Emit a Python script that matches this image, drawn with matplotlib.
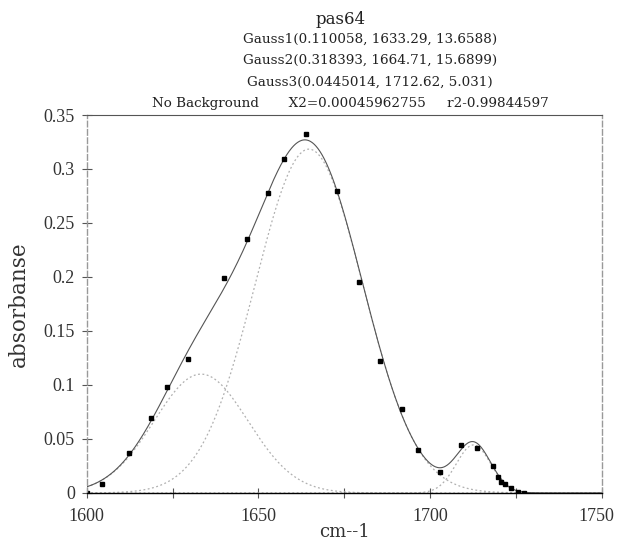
import numpy as np
import matplotlib
matplotlib.use("Agg")
import matplotlib.pyplot as plt
from matplotlib.transforms import ScaledTranslation

# parametres des gaussiennes (amplitude, centre, largeur) lus dans le titre
gauss_amp = [0.110058, 0.318393, 0.0445014]
gauss_center = [1633.29, 1664.71, 1712.62]
gauss_width = [13.6588, 15.6899, 5.031]

wavenumber = [1600.0, 1604.5, 1612.4, 1618.6, 1623.3, 1629.4, 1640.1, 1646.6,
              1652.7, 1657.4, 1663.7, 1673.0, 1679.3, 1685.5, 1691.7, 1696.5,
              1702.8, 1709.0, 1713.7, 1718.3, 1719.7, 1720.7, 1721.9, 1723.5,
              1725.5, 1727.4]
absorbance = [0.0, 0.0083, 0.0367, 0.0698, 0.0978, 0.124, 0.1994, 0.2355,
              0.2775, 0.309, 0.332, 0.2796, 0.195, 0.122, 0.078, 0.040,
              0.0194, 0.0444, 0.042, 0.0253, 0.015, 0.0105, 0.0083, 0.0044,
              0.0007, 0.0002]

title_lines = [
    "Gauss1(0.110058, 1633.29, 13.6588)",
    "Gauss2(0.318393, 1664.71, 15.6899)",
    "Gauss3(0.0445014, 1712.62, 5.031)",
    "No Background       X2=0.00045962755     r2-0.99844597",
]
title_centers = [370, 370, 370, 350]


def gauss(x, a, c, w):
    return a * np.exp(-(x - c) ** 2 / (2 * w ** 2))


x = np.linspace(1600, 1750, 800)
components = [gauss(x, a, c, w) for a, c, w in zip(gauss_amp, gauss_center, gauss_width)]
total = np.sum(components, axis=0)

fig = plt.figure(figsize=(6.18, 5.44), dpi=100)
ax = fig.add_axes([0.1403, 0.0938, 0.8337, 0.6948])

for comp in components:
    ax.plot(x, comp, color="#b0b0b0", lw=0.9, ls=(0, (1.5, 2)))
ax.plot(x, total, color="#555555", lw=0.8)
ax.plot(wavenumber, absorbance, "s", color="black", ms=2.6)

ax.set_xlim(1600, 1750)
ax.set_ylim(0, 0.35)
ax.set_xticks([1600, 1650, 1700, 1750])
ax.set_xticks([1625, 1675, 1725], minor=True)
ax.set_yticks([0, 0.05, 0.1, 0.15, 0.2, 0.25, 0.3, 0.35])
ax.set_yticklabels(["0", "0.05", "0.1", "0.15", "0.2", "0.25", "0.3", "0.35"])
ax.tick_params(axis="both", which="both", direction="inout", length=7,
               width=0.8, color="#555555", labelsize=13)
ax.tick_params(axis="x", pad=7)
ax.tick_params(axis="y", pad=5)
for lab in ax.get_xticklabels() + ax.get_yticklabels():
    lab.set_family("Liberation Serif")
    lab.set_color("#333333")

# le dernier label (1750) touche le bord droit : petit decalage a gauche
fig.canvas.draw()
last = ax.xaxis.get_major_ticks()[-1].label1
last.set_transform(last.get_transform() + ScaledTranslation(-4 / 72, 0, fig.dpi_scale_trans))

ax.spines["bottom"].set_color("black")
ax.spines["bottom"].set_linewidth(1.0)
ax.spines["top"].set_color("#555555")
ax.spines["top"].set_linewidth(0.8)
for side in ["left", "right"]:
    ax.spines[side].set_color("#999999")
    ax.spines[side].set_linewidth(1.0)
    ax.spines[side].set_linestyle((0, (4, 2)))

ax.set_xlabel("cm--1", family="DejaVu Serif", fontsize=13, color="#333333")
ax.xaxis.set_label_coords(0.5, -0.08)
ax.set_ylabel("absorbanse", family="DejaVu Serif", fontsize=15.5, color="#333333")
ax.yaxis.set_label_coords(-0.11, 0.5)

fig.text(341 / 618, 1 - 20 / 544, "pas64", ha="center", va="center",
         family="DejaVu Serif", fontsize=12, color="#222222")
for i, line in enumerate(title_lines):
    fig.text(title_centers[i] / 618, 1 - (39 + 21.5 * i) / 544, line,
             ha="center", va="center", family="DejaVu Serif", fontsize=9.7,
             color="#222222")

fig.savefig("out.png", dpi=100)
